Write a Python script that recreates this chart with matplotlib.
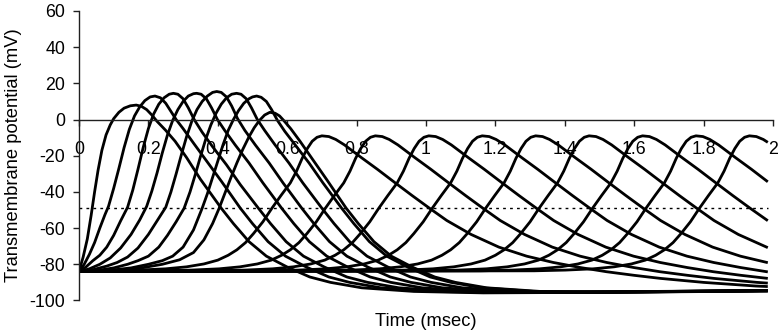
import matplotlib
matplotlib.use("Agg")
import matplotlib.pyplot as plt

plt.rcParams['font.family'] = ['Liberation Sans', 'DejaVu Sans']
plt.rcParams['axes.unicode_minus'] = False

# dotted threshold line and time span of the traces
threshold_mv = -49
t_end = 1.985

x_ticks = [0, 0.2, 0.4, 0.6, 0.8, 1, 1.2, 1.4, 1.6, 1.8, 2]
x_tick_labels = ['0', '0.2', '0.4', '0.6', '0.8', '1', '1.2', '1.4', '1.6', '1.8', '2']
y_ticks = [-100, -80, -60, -40, -20, 0, 20, 40, 60]

# traces, (time msec, potential mV)
# first group: near the stimulus, all leave rest at t = 0
trace_1 = [(0, -84), (0.012, -76), (0.024, -66), (0.035, -53), (0.045, -40), (0.055, -28),
           (0.066, -17), (0.078, -8.5), (0.09, -3), (0.1, 0.5), (0.115, 4), (0.13, 6.3),
           (0.148, 7.6), (0.165, 8), (0.18, 7.3), (0.195, 5.5), (0.21, 2.5), (0.225, -1),
           (0.25, -6), (0.277, -12), (0.31, -21), (0.35, -33), (0.41, -49), (0.445, -57.5),
           (0.49, -67.5), (0.54, -75.5), (0.6, -81.5), (0.665, -87), (0.725, -90), (0.815, -93),
           (0.965, -95), (1.165, -95.8), (1.5, -95.5), (1.985, -94.5)]
trace_2 = [(0, -84), (0.015, -80), (0.03, -74.5), (0.045, -68), (0.06, -60), (0.075, -52.5),
           (0.085, -48), (0.1, -38), (0.115, -27), (0.13, -15.5), (0.145, -5.5), (0.16, 2),
           (0.175, 7), (0.19, 10.5), (0.205, 12.5), (0.219, 13), (0.235, 12), (0.25, 9),
           (0.265, 4.5), (0.28, 0), (0.3, -5), (0.33, -13), (0.37, -23.5), (0.41, -34),
           (0.465, -49), (0.5, -57.5), (0.545, -67.5), (0.595, -75.5), (0.655, -81.5), (0.72, -87),
           (0.78, -90), (0.87, -93), (1.02, -95), (1.22, -95.6), (1.6, -95.2), (1.985, -94.4)]
trace_3 = [(0, -84), (0.02, -81.5), (0.04, -78), (0.06, -75), (0.08, -70.5), (0.1, -64),
           (0.12, -56), (0.14, -48.5), (0.155, -39), (0.17, -27.5), (0.185, -15.5), (0.2, -5),
           (0.215, 3), (0.23, 8.5), (0.245, 12), (0.26, 14), (0.272, 14.5), (0.285, 14),
           (0.3, 11.5), (0.315, 6.5), (0.332, 0), (0.355, -7), (0.385, -15), (0.425, -25),
           (0.465, -36), (0.517, -49), (0.552, -57.5), (0.597, -67.5), (0.647, -75.5), (0.707, -81.5),
           (0.772, -87), (0.832, -90), (0.922, -93), (1.07, -95), (1.27, -95.5), (1.65, -95),
           (1.985, -94.5)]
trace_4 = [(0, -84), (0.03, -82.5), (0.06, -80), (0.09, -76.5), (0.12, -71), (0.15, -63.5),
           (0.175, -55.5), (0.195, -48), (0.21, -39.5), (0.225, -29.5), (0.24, -18.5), (0.255, -8.5),
           (0.27, -0.5), (0.285, 5.5), (0.3, 10), (0.315, 13), (0.33, 14.3), (0.339, 14.5),
           (0.352, 14), (0.367, 11.5), (0.382, 6.5), (0.399, 0), (0.42, -6), (0.45, -14),
           (0.49, -24), (0.53, -35), (0.584, -49), (0.619, -57.5), (0.664, -67.5), (0.714, -75.5),
           (0.774, -81.5), (0.839, -87), (0.899, -90), (0.989, -93), (1.14, -95), (1.34, -95.5),
           (1.7, -95), (1.985, -94.5)]
trace_5 = [(0, -84), (0.04, -83), (0.08, -81), (0.11, -79), (0.14, -76), (0.17, -71),
           (0.2, -63.5), (0.225, -56), (0.25, -48.5), (0.265, -40), (0.28, -30), (0.295, -19.5),
           (0.31, -9.5), (0.325, -1), (0.34, 5.5), (0.355, 10), (0.37, 13), (0.385, 15),
           (0.397, 15.5), (0.41, 15), (0.425, 12.5), (0.44, 7.5), (0.457, 0.5), (0.478, -6),
           (0.508, -14), (0.548, -24), (0.588, -35), (0.642, -49), (0.677, -57.5), (0.722, -67.5),
           (0.772, -75.5), (0.832, -81.5), (0.897, -87), (0.957, -90), (1.047, -93), (1.2, -95),
           (1.4, -95.5), (1.75, -95), (1.985, -94.5)]
trace_6 = [(0, -84), (0.05, -83.5), (0.1, -82), (0.14, -80), (0.17, -78), (0.2, -75.5),
           (0.23, -70.5), (0.255, -64), (0.28, -56.5), (0.303, -49), (0.32, -40), (0.335, -30.5),
           (0.35, -20.5), (0.365, -11), (0.38, -3), (0.395, 3.5), (0.41, 8.5), (0.425, 12),
           (0.44, 14), (0.454, 14.5), (0.467, 14), (0.482, 11.5), (0.497, 6.5), (0.514, 0),
           (0.535, -6), (0.565, -14), (0.605, -24), (0.645, -35), (0.7, -49), (0.735, -57.5),
           (0.78, -67.5), (0.83, -75.5), (0.89, -81.5), (0.955, -87), (1.015, -90), (1.105, -93),
           (1.26, -95), (1.46, -95.5), (1.8, -95), (1.985, -94.5)]
trace_7 = [(0, -84), (0.08, -83.5), (0.15, -82), (0.2, -80), (0.24, -78), (0.27, -75.5),
           (0.3, -70.5), (0.33, -61), (0.355, -49), (0.37, -41), (0.385, -32), (0.4, -23),
           (0.415, -14), (0.43, -6), (0.445, 0), (0.46, 5), (0.475, 9), (0.49, 11.5),
           (0.5, 12.5), (0.512, 13), (0.525, 12.3), (0.54, 10), (0.555, 5.5), (0.572, -0.5),
           (0.593, -6.5), (0.623, -14), (0.663, -24), (0.703, -35), (0.757, -49), (0.792, -57.5),
           (0.837, -67.5), (0.887, -75.5), (0.947, -81.5), (1.012, -87), (1.072, -90), (1.162, -93),
           (1.31, -95), (1.52, -95.5), (1.85, -95), (1.985, -94.8)]
trace_8 = [(0, -84), (0.1, -83.5), (0.18, -82), (0.24, -80), (0.29, -77.5), (0.33, -73.5),
           (0.36, -66.5), (0.385, -57.5), (0.404, -49), (0.42, -41), (0.438, -32), (0.455, -24),
           (0.472, -16.5), (0.49, -9.5), (0.505, -4.5), (0.52, -0.5), (0.535, 2.5), (0.55, 4),
           (0.565, 3.5), (0.578, 2), (0.59, -0.5), (0.61, -5), (0.637, -12), (0.675, -22.5),
           (0.715, -33.5), (0.77, -49), (0.805, -57.5), (0.85, -67.5), (0.9, -75.5), (0.96, -81.5),
           (1.025, -87), (1.085, -90), (1.175, -93), (1.33, -95), (1.55, -95.3), (1.985, -94.8)]

# second group: the propagated spikes, peak about -9 mV
trace_9 = [(0, -84), (0.08, -83.6), (0.17, -83.2), (0.25, -82.5), (0.31, -81.4), (0.36, -79.8),
           (0.4, -77.7), (0.43, -75), (0.455, -72), (0.48, -68), (0.503, -63), (0.53, -56.5),
           (0.556, -49), (0.582, -42), (0.609, -35), (0.627, -28.5), (0.643, -21.5), (0.658, -16),
           (0.672, -12), (0.686, -9.8), (0.7, -9), (0.72, -9.4), (0.74, -11), (0.765, -14),
           (0.79, -17.6), (0.815, -21.2), (0.86, -27.5), (0.91, -34.8), (0.96, -42), (1.01, -49),
           (1.06, -55.8), (1.13, -63.5), (1.21, -70.5), (1.29, -75.5), (1.367, -79), (1.445, -81.8),
           (1.52, -84.1), (1.6, -86.1), (1.676, -87.8), (1.8, -90), (1.95, -92), (1.985, -92.3)]
trace_10 = [(0, -84), (0.234, -83.6), (0.324, -83.2), (0.404, -82.5), (0.464, -81.4), (0.514, -79.8),
            (0.554, -77.7), (0.584, -75), (0.609, -72), (0.634, -68), (0.657, -63), (0.684, -56.5),
            (0.71, -49), (0.736, -42), (0.763, -35), (0.781, -28.5), (0.797, -21.5), (0.812, -16),
            (0.826, -12), (0.84, -9.8), (0.854, -9), (0.874, -9.4), (0.894, -11), (0.919, -14),
            (0.944, -17.6), (0.969, -21.2), (1.014, -27.5), (1.064, -34.8), (1.114, -42), (1.164, -49),
            (1.214, -55.8), (1.284, -63.5), (1.364, -70.5), (1.444, -75.5), (1.521, -79), (1.599, -81.8),
            (1.674, -84.1), (1.754, -86.1), (1.83, -87.8), (1.954, -90), (1.985, -90.4)]
trace_11 = [(0, -84), (0.388, -83.6), (0.478, -83.2), (0.558, -82.5), (0.618, -81.4), (0.668, -79.8),
            (0.708, -77.7), (0.738, -75), (0.763, -72), (0.788, -68), (0.811, -63), (0.838, -56.5),
            (0.864, -49), (0.89, -42), (0.917, -35), (0.935, -28.5), (0.951, -21.5), (0.966, -16),
            (0.98, -12), (0.994, -9.8), (1.008, -9), (1.028, -9.4), (1.048, -11), (1.073, -14),
            (1.098, -17.6), (1.123, -21.2), (1.168, -27.5), (1.218, -34.8), (1.268, -42), (1.318, -49),
            (1.368, -55.8), (1.438, -63.5), (1.518, -70.5), (1.598, -75.5), (1.675, -79), (1.753, -81.8),
            (1.828, -84.1), (1.908, -86.1), (1.985, -87.8)]
trace_12 = [(0, -84), (0.542, -83.6), (0.632, -83.2), (0.712, -82.5), (0.772, -81.4), (0.822, -79.8),
            (0.862, -77.7), (0.892, -75), (0.917, -72), (0.942, -68), (0.965, -63), (0.992, -56.5),
            (1.018, -49), (1.044, -42), (1.071, -35), (1.089, -28.5), (1.105, -21.5), (1.12, -16),
            (1.134, -12), (1.148, -9.8), (1.162, -9), (1.182, -9.4), (1.202, -11), (1.227, -14),
            (1.252, -17.6), (1.277, -21.2), (1.322, -27.5), (1.372, -34.8), (1.422, -42), (1.472, -49),
            (1.522, -55.8), (1.592, -63.5), (1.672, -70.5), (1.752, -75.5), (1.829, -79), (1.907, -81.8),
            (1.985, -84.2)]
trace_13 = [(0, -84), (0.696, -83.6), (0.786, -83.2), (0.866, -82.5), (0.926, -81.4), (0.976, -79.8),
            (1.016, -77.7), (1.046, -75), (1.071, -72), (1.096, -68), (1.119, -63), (1.146, -56.5),
            (1.172, -49), (1.198, -42), (1.225, -35), (1.243, -28.5), (1.259, -21.5), (1.274, -16),
            (1.288, -12), (1.302, -9.8), (1.316, -9), (1.336, -9.4), (1.356, -11), (1.381, -14),
            (1.406, -17.6), (1.431, -21.2), (1.476, -27.5), (1.526, -34.8), (1.576, -42), (1.626, -49),
            (1.676, -55.8), (1.746, -63.5), (1.826, -70.5), (1.906, -75.5), (1.985, -79.1)]
trace_14 = [(0, -84), (0.85, -83.6), (0.94, -83.2), (1.02, -82.5), (1.08, -81.4), (1.13, -79.8),
            (1.17, -77.7), (1.2, -75), (1.225, -72), (1.25, -68), (1.273, -63), (1.3, -56.5),
            (1.326, -49), (1.352, -42), (1.379, -35), (1.397, -28.5), (1.413, -21.5), (1.428, -16),
            (1.442, -12), (1.456, -9.8), (1.47, -9), (1.49, -9.4), (1.51, -11), (1.535, -14),
            (1.56, -17.6), (1.585, -21.2), (1.63, -27.5), (1.68, -34.8), (1.73, -42), (1.78, -49),
            (1.83, -55.8), (1.9, -63.5), (1.985, -70.8)]
trace_15 = [(0, -84), (1.004, -83.6), (1.094, -83.2), (1.174, -82.5), (1.234, -81.4), (1.284, -79.8),
            (1.324, -77.7), (1.354, -75), (1.379, -72), (1.404, -68), (1.427, -63), (1.454, -56.5),
            (1.48, -49), (1.506, -42), (1.533, -35), (1.551, -28.5), (1.567, -21.5), (1.582, -16),
            (1.596, -12), (1.61, -9.8), (1.624, -9), (1.644, -9.4), (1.664, -11), (1.689, -14),
            (1.714, -17.6), (1.739, -21.2), (1.784, -27.5), (1.834, -34.8), (1.884, -42), (1.934, -49),
            (1.985, -55.9)]
trace_16 = [(0, -84), (1.158, -83.6), (1.248, -83.2), (1.328, -82.5), (1.388, -81.4), (1.438, -79.8),
            (1.478, -77.7), (1.508, -75), (1.533, -72), (1.558, -68), (1.581, -63), (1.608, -56.5),
            (1.634, -49), (1.66, -42), (1.687, -35), (1.705, -28.5), (1.721, -21.5), (1.736, -16),
            (1.75, -12), (1.764, -9.8), (1.778, -9), (1.798, -9.4), (1.818, -11), (1.843, -14),
            (1.868, -17.6), (1.893, -21.2), (1.938, -27.5), (1.985, -34.4)]
trace_17 = [(0, -84), (1.312, -83.6), (1.402, -83.2), (1.482, -82.5), (1.542, -81.4), (1.592, -79.8),
            (1.632, -77.7), (1.662, -75), (1.687, -72), (1.712, -68), (1.735, -63), (1.762, -56.5),
            (1.788, -49), (1.814, -42), (1.841, -35), (1.859, -28.5), (1.875, -21.5), (1.89, -16),
            (1.904, -12), (1.918, -9.8), (1.932, -9), (1.952, -9.4), (1.972, -11), (1.985, -12.6)]

traces = [trace_1, trace_2, trace_3, trace_4, trace_5, trace_6, trace_7, trace_8, trace_9,
          trace_10, trace_11, trace_12, trace_13, trace_14, trace_15, trace_16, trace_17]

fig = plt.figure(figsize=(7.82, 3.36), dpi=100)
ax = fig.add_axes([0.101, 0.1057, 0.8875, 0.8616])

for trace in traces:
    t = [p[0] for p in trace]
    v = [p[1] for p in trace]
    ax.plot(t, v, color='black', lw=2.0, solid_joinstyle='round', solid_capstyle='butt')

# threshold
ax.plot([0, t_end], [threshold_mv, threshold_mv], color='black', lw=1, linestyle=(0, (2, 3)))

ax.set_xlim(0, 2)
ax.set_ylim(-100, 60)
ax.spines['top'].set_visible(False)
ax.spines['right'].set_visible(False)
ax.spines['bottom'].set_position(('data', 0))
for s in ['left', 'bottom']:
    ax.spines[s].set_linewidth(1)
    ax.spines[s].set_color('#202020')

ax.set_xticks(x_ticks)
ax.set_xticklabels(x_tick_labels)
ax.set_yticks(y_ticks)
ax.tick_params(axis='both', direction='out', length=4.3, width=1, color='#202020', labelsize=12.8)
ax.tick_params(axis='x', pad=11.5)
ax.tick_params(axis='y', pad=5.5)

fig.text(426 / 782, 1 - 321.5 / 336, 'Time (msec)', ha='center', va='center', fontsize=13.2)
fig.text(14 / 782, 1 - 155.5 / 336, 'Transmembrane potential (mV)', ha='center', va='center',
         rotation=90, fontsize=13.2)

fig.savefig('out.png', dpi=100)
